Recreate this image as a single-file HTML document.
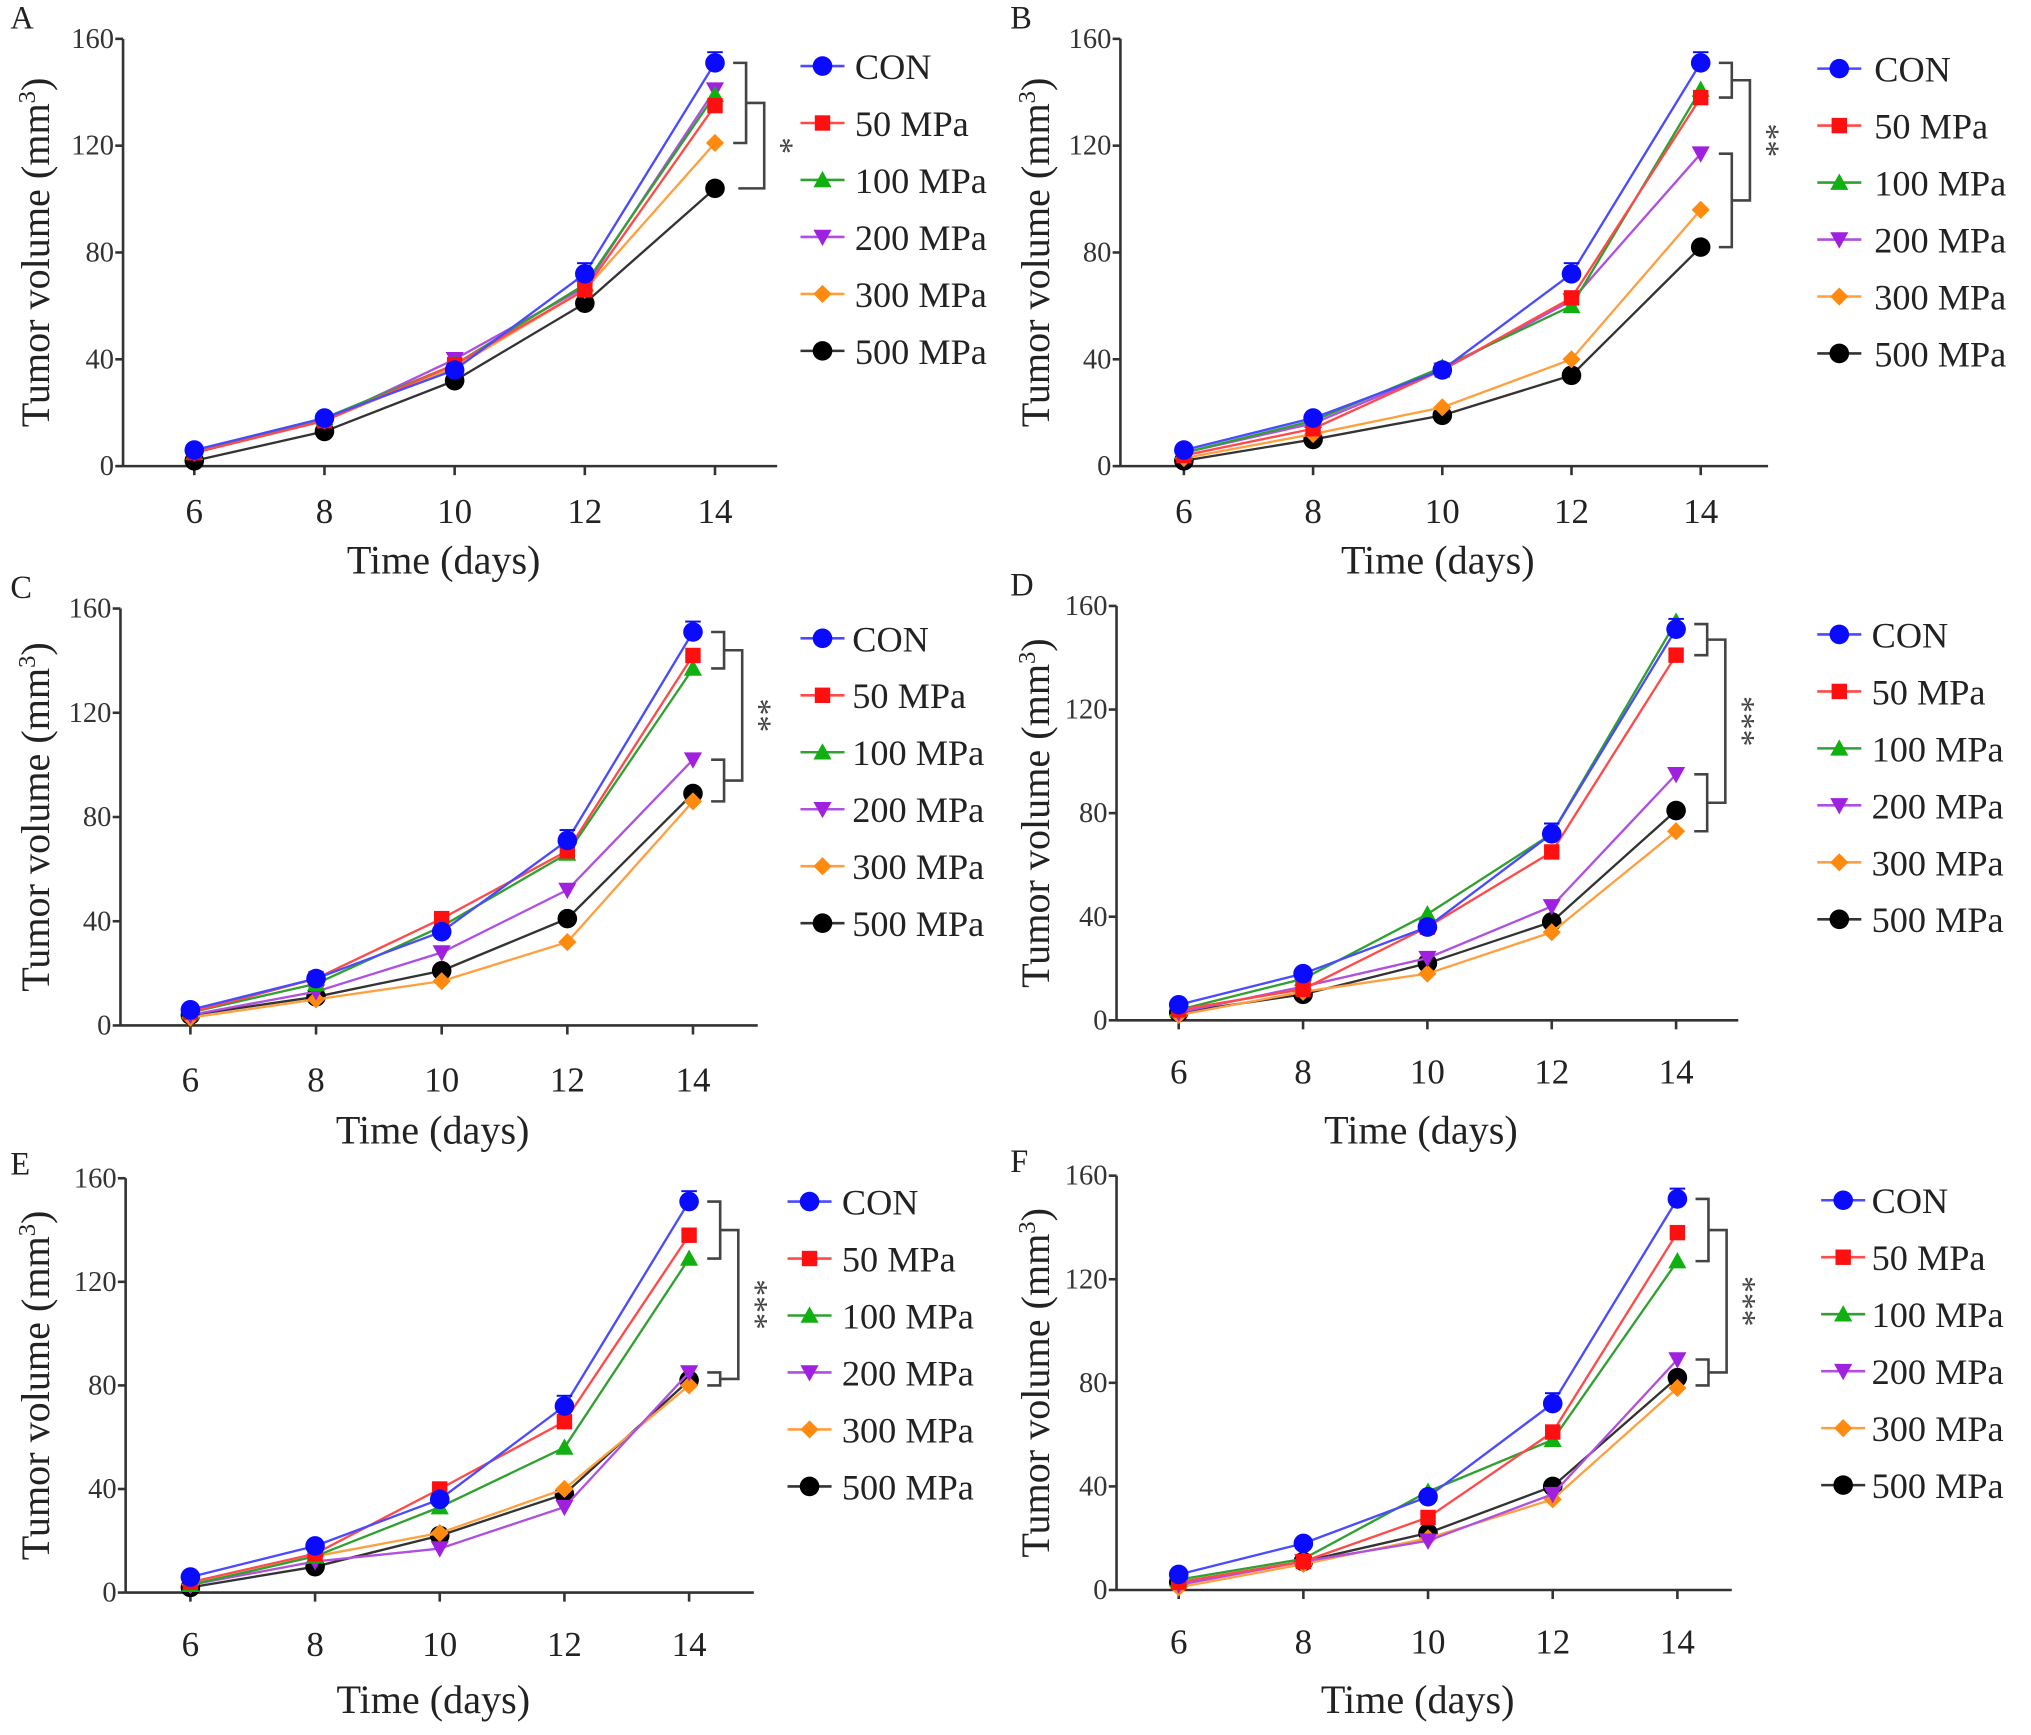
<!DOCTYPE html>
<html><head><meta charset="utf-8"><style>
html,body{margin:0;padding:0;background:#fff;}
svg{display:block;font-family:"Liberation Serif",serif;}
</style></head><body>
<svg id="fig" width="2031" height="1735" viewBox="0 0 1568 1340" preserveAspectRatio="none" xmlns="http://www.w3.org/2000/svg"></svg>
<script>
const days = [6, 8, 10, 12, 14];
const yTicks = [0, 40, 80, 120, 160];
const seriesNames = ["CON", "50 MPa", "100 MPa", "200 MPa", "300 MPa", "500 MPa"];
const conErr = [1, 1, 2, 4, 4];
const panelA = [[6,18,36,72,151],[5,17,38,66,135],[5,18,38,68,139],[5,17,40,67,141],[5,17,37,66,121],[2,13,32,61,104]];
const panelB = [[6,18,36,72,151],[4,14,36,63,138],[5,17,37,60,141],[5,16,36,62,117],[3,12,22,40,96],[2,10,19,34,82]];
const panelC = [[6,18,36,71,151],[5,18,41,67,142],[5,16,38,66,137],[4,13,28,52,102],[3,10,17,32,86],[4,11,21,41,89]];
const panelD = [[6,18,36,72,151],[4,12,36,65,141],[4,16,41,72,154],[3,13,24,44,95],[2,11,18,34,73],[3,10,22,38,81]];
const panelE = [[6,18,36,72,151],[4,15,40,66,138],[3,14,33,56,129],[3,12,17,33,85],[3,14,23,40,80],[2,10,22,38,82]];
const panelF = [[6,18,36,72,151],[3,11,28,61,138],[4,12,38,58,127],[2,11,19,37,89],[1,10,20,35,78],[3,11,22,40,82]];
const stars = ["*", "**", "**", "***", "***", "***"];
const bracketA = [151, 121, 104];
const bracketB = [151, 138, 117, 82];
const bracketC = [151, 137, 102, 86];
const bracketD = [153, 141, 95, 73];
const bracketE = [151, 129, 85, 80];
const bracketF = [151, 127, 89, 79];

const colors = ["#0a0aff","#ff1010","#10b010","#a020e0","#ff8a10","#000000"];
const lineColors = ["#4a4aff","#ff4a4a","#30a030","#b050e0","#ffa040","#333333"];
const NS = "http://www.w3.org/2000/svg";
const svg = document.getElementById("fig");
function mk(tag, attrs, parent){const e=document.createElementNS(NS,tag);for(const k in attrs)e.setAttribute(k,attrs[k]);(parent||svg).appendChild(e);return e;}

function marker(g, i, x, y, s){
  let m;
  if(i===0||i===5) m=mk("circle",{cx:x,cy:y,r:s*1.08,fill:colors[i]},g);
  else if(i===1) m=mk("rect",{x:x-s*0.85,y:y-s*0.85,width:s*1.7,height:s*1.7,fill:colors[i]},g);
  else if(i===2) m=mk("polygon",{points:`${x},${y-s} ${x-s},${y+s*0.8} ${x+s},${y+s*0.8}`,fill:colors[i]},g);
  else if(i===3) m=mk("polygon",{points:`${x},${y+s} ${x-s},${y-s*0.8} ${x+s},${y-s*0.8}`,fill:colors[i]},g);
  else m=mk("polygon",{points:`${x},${y-s} ${x+s},${y} ${x},${y+s} ${x-s},${y}`,fill:colors[i]},g);
  return m;
}

const panels = [
 {L:"A",lx:8,ly:22,ax:95,top:30,bot:360,x6:150,x14:552,xe:600,tl:395,xl:433,tx:28,leg:[635,660,51],data:panelA,br:bracketA},
 {L:"B",lx:780,ly:22,ax:865,top:30,bot:360,x6:914,x14:1313,xe:1365,tl:395,xl:433,tx:800,leg:[1420,1447,53],data:panelB,br:bracketB},
 {L:"C",lx:8,ly:462,ax:93,top:470,bot:792,x6:147,x14:535,xe:585,tl:834,xl:873,tx:28,leg:[635,658,493],data:panelC,br:bracketC},
 {L:"D",lx:780,ly:460,ax:862,top:468,bot:788,x6:910,x14:1294,xe:1342,tl:828,xl:873,tx:800,leg:[1420,1445,490],data:panelD,br:bracketD},
 {L:"E",lx:8,ly:907,ax:97,top:910,bot:1230,x6:147,x14:532,xe:582,tl:1270,xl:1313,tx:28,leg:[625,650,928],data:panelE,br:bracketE},
 {L:"F",lx:780,ly:905,ax:862,top:908,bot:1228,x6:910,x14:1295,xe:1337,tl:1268,xl:1313,tx:800,leg:[1423,1445,927],data:panelF,br:bracketF}
];

panels.forEach((p, pi)=>{
  const g = mk("g",{});
  
  
  const X = d => p.x6 + (d - days[0]) / (days[days.length-1] - days[0]) * (p.x14 - p.x6);
  const Y = v => p.bot - v / 160 * (p.bot - p.top);
  const lt = mk("text",{x:p.lx,y:p.ly,"font-size":25,fill:"#222"},g); lt.textContent=p.L;
  
  
  const ya = mk("line",{x1:p.ax,y1:p.top,x2:p.ax,y2:p.bot,stroke:"#333","stroke-width":2},g);
  
  
  const xa = mk("line",{x1:p.ax,y1:p.bot,x2:p.xe,y2:p.bot,stroke:"#333","stroke-width":2},g);
  
  
  yTicks.forEach(t=>{
    mk("line",{x1:p.ax-6,y1:Y(t),x2:p.ax,y2:Y(t),stroke:"#333","stroke-width":2},g);
    const tt = mk("text",{x:p.ax-7,y:Y(t)+7,"font-size":22,"text-anchor":"end",fill:"#333"},g); tt.textContent=t;
    
    
  });
  days.forEach(d=>{
    mk("line",{x1:X(d),y1:p.bot,x2:X(d),y2:p.bot+7,stroke:"#333","stroke-width":2},g);
    const tt = mk("text",{x:X(d),y:p.tl+9,"font-size":27,"text-anchor":"middle",fill:"#222"},g); tt.textContent=d;
    
    
  });
  const xt = mk("text",{x:(p.ax+p.xe)/2-5,y:p.xl+10,"font-size":31,"text-anchor":"middle",fill:"#222"},g); xt.textContent="Time (days)";
  
  
  const cy = (p.top+p.bot)/2;
  const yt = mk("text",{x:0,y:0,"font-size":31,"text-anchor":"middle",fill:"#222",transform:`translate(${p.tx+10},${cy}) rotate(-90)`},g);
  yt.innerHTML='Tumor volume (mm<tspan dy="-11" font-size="19">3</tspan><tspan dy="11">)</tspan>';
  
  
  for(let i=p.data.length-1;i>=0;i--){
    const s = p.data[i];
    const sg = mk("g",{},g);
    
    
    const pts = s.map((v,k)=>`${X(days[k])},${Y(v)}`).join(" ");
    mk("polyline",{points:pts,fill:"none",stroke:lineColors[i],"stroke-width":1.8},sg);
    if(i===0){
      s.forEach((v,k)=>{
        const x=X(days[k]), y1=Y(v), y2=Y(v+conErr[k]);
        mk("line",{x1:x,y1:y1,x2:x,y2:y2,stroke:colors[0],"stroke-width":1.5},sg);
        mk("line",{x1:x-6,y1:y2,x2:x+6,y2:y2,stroke:colors[0],"stroke-width":1.5},sg);
      });
    }
    s.forEach((v,k)=>{
      const m = marker(sg,i,X(days[k]),Y(v),7);
      
      
    });
  }
  const bg = mk("g",{stroke:"#444","stroke-width":2,fill:"none"},g);
  
  
  const bx = p.x14 + 14;
  let starY;
  if(p.br.length===3){
    const [a,b,c]=p.br;
    mk("polyline",{points:`${bx},${Y(a)} ${bx+10},${Y(a)} ${bx+10},${Y(b)} ${bx},${Y(b)}`},bg);
    const mid=(Y(a)+Y(b))/2;
    mk("polyline",{points:`${bx+10},${mid} ${bx+24},${mid} ${bx+24},${Y(c)} ${bx+4},${Y(c)}`},bg);
    starY=(mid+Y(c))/2;
  } else {
    const [a,b,c,d]=p.br;
    mk("polyline",{points:`${bx},${Y(a)} ${bx+10},${Y(a)} ${bx+10},${Y(b)} ${bx},${Y(b)}`},bg);
    mk("polyline",{points:`${bx},${Y(c)} ${bx+10},${Y(c)} ${bx+10},${Y(d)} ${bx},${Y(d)}`},bg);
    const m1=(Y(a)+Y(b))/2, m2=(Y(c)+Y(d))/2;
    mk("polyline",{points:`${bx+10},${m1} ${bx+24},${m1} ${bx+24},${m2} ${bx+10},${m2}`},bg);
    starY=(m1+m2)/2;
  }
  const st = mk("text",{x:0,y:0,"font-size":26,"text-anchor":"middle",fill:"#444",transform:`translate(${bx+29},${starY}) rotate(90)`},g);
  st.textContent=stars[pi];
  
  
  const [mx,tx,ry]=p.leg;
  seriesNames.forEach((n,i)=>{
    const lg = mk("g",{},g);
    
    
    const y=ry+i*44;
    mk("line",{x1:mx-17,y1:y,x2:mx+17,y2:y,stroke:lineColors[i],"stroke-width":2},lg);
    marker(lg,i,mx,y,7);
    const t=mk("text",{x:tx,y:y+10,"font-size":28,fill:"#222"},lg); t.textContent=n;
  });
});
</script>
</body></html>
